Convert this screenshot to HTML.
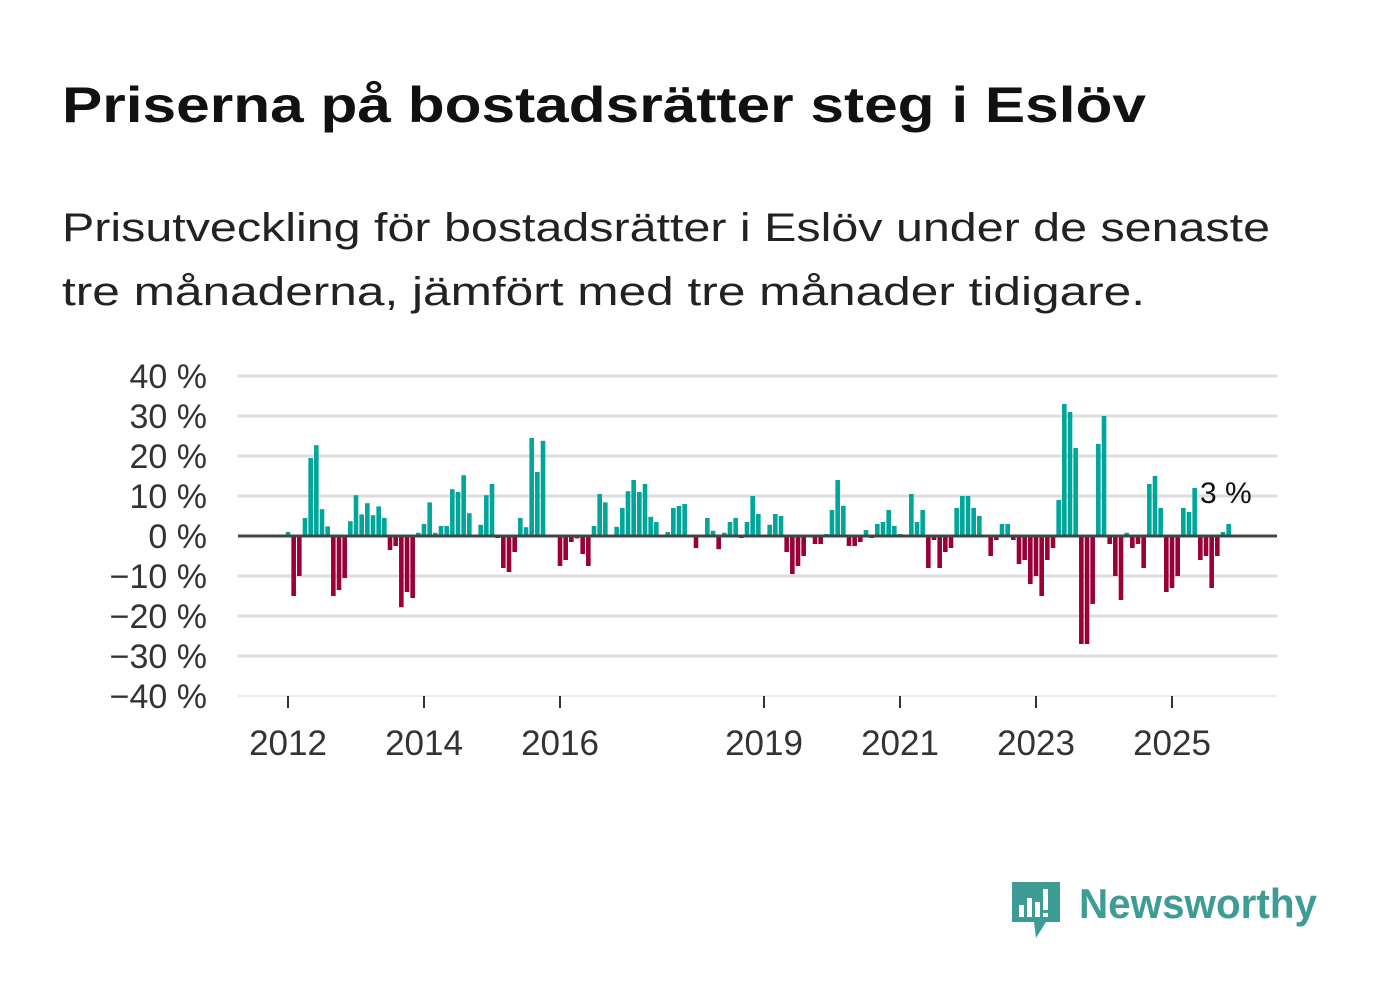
<!DOCTYPE html>
<html><head><meta charset="utf-8"><style>
html,body{margin:0;padding:0;background:#fff;}
svg{display:block;font-family:"Liberation Sans",sans-serif;}
</style></head><body>
<svg width="1382" height="999" viewBox="0 0 1382 999">
<text x="62" y="122" font-size="50" font-weight="bold" fill="#111" textLength="1084" lengthAdjust="spacingAndGlyphs">Priserna på bostadsrätter steg i Eslöv</text>
<text x="62" y="241" font-size="40" fill="#222" textLength="1208" lengthAdjust="spacingAndGlyphs">Prisutveckling för bostadsrätter i Eslöv under de senaste</text>
<text x="62" y="305" font-size="40" fill="#222" textLength="1083" lengthAdjust="spacingAndGlyphs">tre månaderna, jämfört med tre månader tidigare.</text>
<g id="grid"></g>
<g id="bars"></g>
<g id="axes"></g>
<text x="1200" y="503" font-size="30" fill="#111">3 %</text>
<g>
<path d="M1012 882 h48 v40 h-14 l-10 16 l-2 -16 h-22 z" fill="#3f9c94"/>
<rect x="1019" y="905" width="5" height="12" fill="#fff"/>
<rect x="1027" y="898" width="5" height="19" fill="#fff"/>
<rect x="1035" y="902" width="5" height="15" fill="#fff"/>
<rect x="1043" y="889" width="5" height="21" fill="#fff"/>
<rect x="1043" y="913" width="5" height="4" fill="#fff"/>
<text x="1079" y="918" font-size="42" font-weight="bold" fill="#3f9c94" textLength="238" lengthAdjust="spacingAndGlyphs">Newsworthy</text>
</g>
</svg>
<script>
const values = [1,-15,-10,4.5,19.5,22.7,6.7,2.4,-15,-13.5,-10.5,3.7,10.2,5.4,8.2,5.2,7.4,4.5,-3.5,-2.5,-17.8,-14,-15.5,0.8,3,8.4,0.8,2.5,2.5,11.7,11,15.2,5.7,0,2.8,10.2,13,-0.5,-8,-9,-4,4.5,2.2,24.5,16,23.8,0,0.3,-7.5,-6,-1.5,-0.6,-4.5,-7.5,2.5,10.5,8.4,0,2.3,7,11.2,14,11,13,4.8,3.5,0.3,1,7,7.5,8,0,-3,0,4.5,1.3,-3.3,0.8,3.5,4.5,-0.5,3.5,10,5.5,0,2.8,5.5,5,-4,-9.5,-7.5,-5,0,-2,-2,0.5,6.5,14,7.5,-2.5,-2.5,-1.5,1.5,-0.5,3,3.5,6.5,2.5,0.5,0,10.5,3.5,6.5,-8,-1,-8,-4,-3,7,10,10,7,5,0,-5,-1,3,3,-1,-7,-6,-12,-10,-15,-6,-3,9,33,31,22,-27,-27,-17,23,30,-2,-10,-16,0.8,-3,-2,-8,13,15,7,-14,-13,-10,7,6,12,-6,-5,-13,-5,1,3];
const yTicks = [40,30,20,10,0,-10,-20,-30,-40];
const yTickLabels = ["40 %","30 %","20 %","10 %","0 %","−10 %","−20 %","−30 %","−40 %"];
const xTickYears = [2012,2014,2016,2019,2021,2023,2025];
const startYear = 2012;
const NS="http://www.w3.org/2000/svg";
const y = v => 536 - v*4;
const xMonth = i => 288 + i*(68/12);
const xYear = yr => 288 + (yr-startYear)*68;
const grid=document.getElementById('grid'), bars=document.getElementById('bars'), axes=document.getElementById('axes');
function mk(tag,attrs,parent){const e=document.createElementNS(NS,tag);for(const k in attrs)e.setAttribute(k,attrs[k]);parent.appendChild(e);return e;}
yTicks.forEach((t,i)=>{
  if(t!==0){const l=mk('line',{x1:238,x2:1277,y1:y(t),y2:y(t),stroke:t===-40?'#e6e6e6':'#dddddd','stroke-width':t===-40?1.5:3},grid);
  
  }
  const tx=mk('text',{x:207,y:y(t)+12,'font-size':34,fill:'#333','text-anchor':'end'},axes);
  tx.textContent=yTickLabels[i];
  
  
});
values.forEach((v,i)=>{
  const cx=xMonth(i);
  const r=mk('rect',{x:cx-2.3,width:4.6,y:Math.min(y(v),y(0)),height:Math.abs(y(v)-y(0)),fill:v>=0?'#00a69a':'#990038'},bars);
  
  
});
const zl=mk('line',{x1:238,x2:1277,y1:y(0),y2:y(0),stroke:'#444','stroke-width':3},axes);


xTickYears.forEach(yr=>{
  const tk=mk('line',{x1:xYear(yr),x2:xYear(yr),y1:696,y2:708,stroke:'#333','stroke-width':2},axes);
  
  
  const tx=mk('text',{x:xYear(yr),y:755,'font-size':35,fill:'#333','text-anchor':'middle'},axes);
  tx.textContent=yr;
  
  
});
</script>
</body></html>
